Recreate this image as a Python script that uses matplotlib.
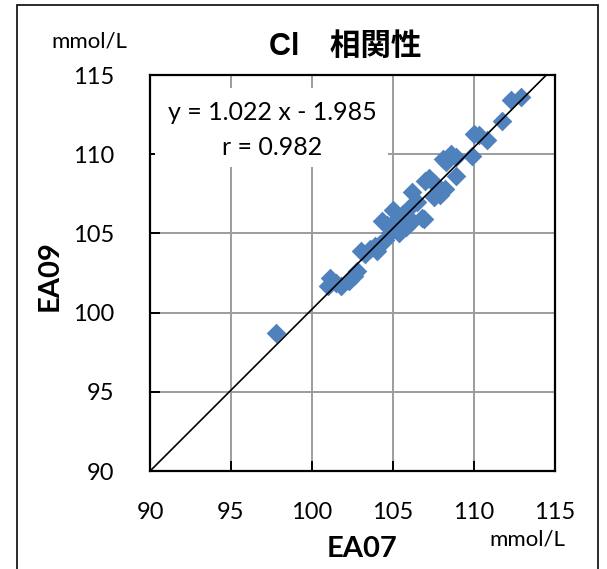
import matplotlib
matplotlib.use("Agg")
import matplotlib.pyplot as plt
from matplotlib.patches import Rectangle

# ---- data ----
ea07 = [97.8, 101.1, 101.0, 101.5, 101.8, 102.3, 102.6, 102.8, 103.0, 103.3,
        103.6, 103.9, 104.0, 104.2, 104.3, 104.6, 104.5, 104.8, 105.0, 105.0,
        105.3, 105.4, 105.6, 105.8, 106.0, 106.2, 106.0, 106.2, 106.5, 106.8,
        106.9, 107.0, 107.2, 107.5, 107.5, 107.9, 107.8, 108.1, 108.3, 108.6,
        108.2, 108.9, 108.9, 109.9, 110.0, 110.3, 110.8, 111.7, 112.3, 112.9]
ea09 = [98.7, 102.2, 101.7, 101.9, 101.7, 102.0, 102.3, 102.6, 103.9, 103.7,
        104.0, 104.2, 103.9, 104.3, 105.8, 105.5, 104.6, 105.0, 105.3, 106.5,
        106.0, 105.0, 106.2, 105.4, 105.6, 105.8, 106.6, 107.6, 107.0, 106.0,
        105.9, 108.3, 108.5, 108.2, 107.3, 107.4, 107.9, 109.7, 109.5, 110.0,
        107.8, 108.6, 109.8, 109.9, 111.3, 111.2, 110.9, 112.1, 113.4, 113.6]
slope = 1.022
intercept = -1.985
r_value = 0.982
ticks = [90, 95, 100, 105, 110, 115]

plt.rcParams['font.family'] = ['Lato', 'Noto Sans CJK JP', 'DejaVu Sans']

W, H = 607, 569
fig = plt.figure(figsize=(W / 100, H / 100), dpi=100)
ax = fig.add_axes([150 / W, 1 - 471 / H, 405 / W, 396 / H])

# outer frame
fig.patches.append(Rectangle((17 / W, -0.02), 581 / W, 1.02 - 5 / H,
                             transform=fig.transFigure, fill=False,
                             edgecolor='#1a1a1a', linewidth=1.3))

ax.set_xlim(90, 115)
ax.set_ylim(90, 115)
ax.set_xticks(ticks)
ax.set_yticks(ticks)
ax.grid(True, color='#9c9c9c', linewidth=1.4)
ax.set_axisbelow(True)
for s in ax.spines.values():
    s.set_linewidth(1.6)
    s.set_color('black')
ax.tick_params(axis='both', direction='in', length=7, width=1.4,
               color='black', labelsize=17)
ax.tick_params(axis='x', pad=22)
ax.tick_params(axis='y', pad=26)

ax.scatter(ea07, ea09, marker='D', s=100, color='#4F81BD', linewidths=0, zorder=3)

xl = [90, 115]
ax.plot(xl, [slope * v + intercept for v in xl], color='black', linewidth=1.2,
        zorder=4, solid_capstyle='butt')

# equation box
ax.add_patch(Rectangle((0.012, 0.768), 0.576, 0.199, transform=ax.transAxes,
                       facecolor='white', edgecolor='none', zorder=2.5))
ax.text(0.301, 0.905, f"y = {slope:.3f} x - {abs(intercept):.3f}",
        transform=ax.transAxes, ha='center', va='center', fontsize=18, zorder=5)
ax.text(0.301, 0.817, f"r = {r_value:.3f}",
        transform=ax.transAxes, ha='center', va='center', fontsize=18, zorder=5)

fig.text(345 / W, 1 - 47 / H, "Cl\u3000相関性", ha='center', va='center',
         fontsize=22, fontweight='bold',
         family=['Liberation Sans', 'Noto Sans CJK JP', 'DejaVu Sans'])
fig.text(89 / W, 1 - 42 / H, "mmol/L", ha='center', va='center', fontsize=16)
fig.text(527 / W, 1 - 539 / H, "mmol/L", ha='center', va='center', fontsize=16)
fig.text(362 / W, 1 - 549 / H, "EA07", ha='center', va='center', fontsize=21,
         fontweight='bold')
fig.text(50 / W, 1 - 276 / H, "EA09", ha='center', va='center', fontsize=21,
         fontweight='bold', rotation=90)

fig.savefig("out.png", dpi=100)
